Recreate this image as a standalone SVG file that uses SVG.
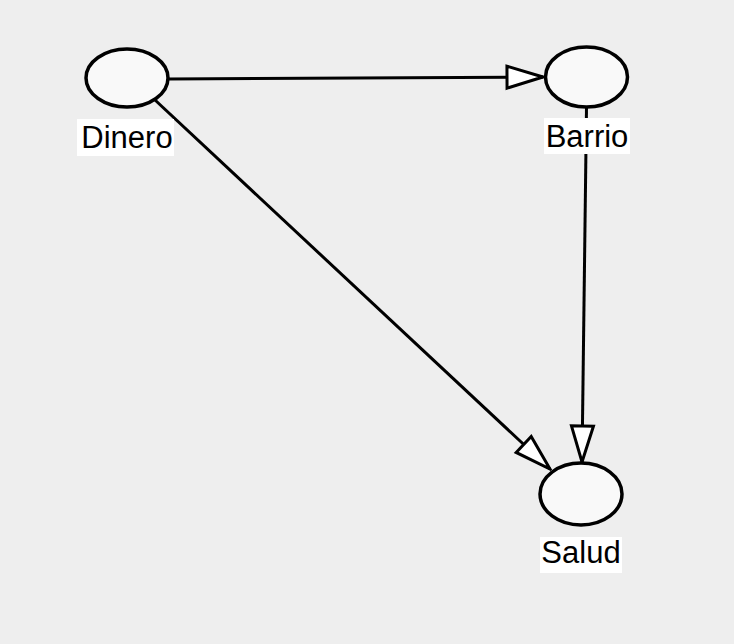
<svg xmlns="http://www.w3.org/2000/svg" width="734" height="644" viewBox="0 0 734 644">
<style>
.bg{fill:#eeeeee}
.node{fill:#f9f9f9;stroke:#000;stroke-width:3.5}
.edge{stroke:#000;stroke-width:3;fill:none}
.lblbox{fill:#ffffff}
.lbl{font-family:"Liberation Sans",Arial,sans-serif;font-size:31px;fill:#000;text-anchor:middle}
</style>
<defs>
<marker id="arr" markerUnits="userSpaceOnUse" viewBox="-40 -14 42 28" markerWidth="42" markerHeight="28" refX="0" refY="0" orient="auto">
<path d="M0,0 L-36,-11 L-36,11 Z" fill="#ffffff" stroke="#000" stroke-width="3" stroke-linejoin="miter"/>
</marker>
</defs>
<rect class="bg" x="0" y="0" width="734" height="644"/>
<g id="connectors">
<line class="edge" x1="168" y1="79" x2="543" y2="77" marker-end="url(#arr)"/>
<line class="edge" x1="586.5" y1="107" x2="582" y2="462" marker-end="url(#arr)"/>
<line class="edge" x1="155" y1="100" x2="550" y2="469" marker-end="url(#arr)"/>
</g>
<g id="dinero">
<ellipse class="node" cx="127" cy="78" rx="41" ry="29"/>
<rect class="lblbox" x="77" y="119" width="97" height="37"/>
<text class="lbl" x="127" y="148">Dinero</text>
</g>
<g id="barrio">
<ellipse class="node" cx="586.5" cy="77" rx="41" ry="30"/>
<rect class="lblbox" x="544" y="118" width="86" height="36"/>
<text class="lbl" x="587" y="147">Barrio</text>
</g>
<g id="salud">
<ellipse class="node" cx="581" cy="494" rx="41" ry="31"/>
<rect class="lblbox" x="540" y="537" width="82" height="36"/>
<text class="lbl" x="581" y="563">Salud</text>
</g>
</svg>
